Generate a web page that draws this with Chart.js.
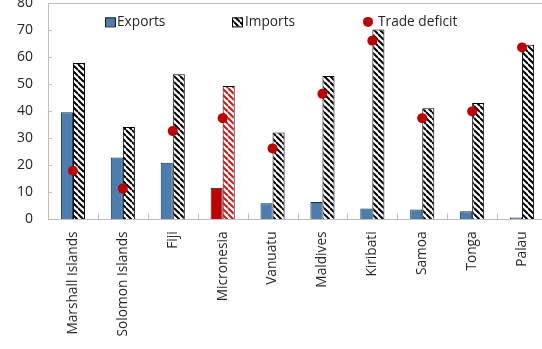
<!DOCTYPE html>
<html><head><meta charset="utf-8">
<script src="https://cdn.jsdelivr.net/npm/chart.js@4/dist/chart.umd.min.js"></script>
<style>
html,body{margin:0;padding:0;background:#fff;overflow:hidden;width:542px;height:349px;position:relative;}
#wrap{position:absolute;left:0;top:0;width:547px;height:400px;}
</style></head><body>
<div id="wrap"><canvas id="c"></canvas></div>
<script>
// ---- data ----
const categories = ['Marshall Islands','Solomon Islands','Fiji','Micronesia','Vanuatu','Maldives','Kiribati','Samoa','Tonga','Palau'];
const exportsVals = [39.7, 22.9, 21.0, 11.7, 6.0, 6.4, 4.0, 3.7, 3.0, 0.7];
const importsVals = [57.9, 34.2, 53.8, 49.4, 32.2, 53.1, 70.3, 41.2, 43.1, 64.7];
const deficitVals = [18.0, 11.4, 32.7, 37.5, 26.3, 46.5, 66.2, 37.5, 40.0, 63.7];
const seriesNames = ['Exports','Imports','Trade deficit'];
const yTicks = [0,10,20,30,40,50,60,70,80];
const highlight = 'Micronesia';

// ---- styles ----
const BLUE = '#4a7db0', RED = '#c00000', AXIS = '#bfbfbf', TXT = '#262626';
const FONT = '"Open Sans", "Noto Sans", sans-serif';
function hatch(color, bg){
  const s = 6, c = document.createElement('canvas'); c.width = c.height = s;
  const g = c.getContext('2d'); g.fillStyle = bg; g.fillRect(0,0,s,s);
  g.strokeStyle = color; g.lineWidth = 2; g.beginPath();
  for (let k=-1;k<=1;k++){ g.moveTo(0,k*s); g.lineTo(s,s+k*s); }
  g.stroke();
  return g.createPattern(c,'repeat');
}
const hatchBlack = hatch('#000','#fff');
const hatchRed = hatch('#d41414','#fff');
const isHi = ctx => categories[ctx.dataIndex] === highlight;

let xAxisHeight = 150;

const decor = {
  id: 'decor',
  beforeDatasetsDraw(chart){
    const {ctx, chartArea:a, scales:{x,y}} = chart;
    ctx.save(); ctx.strokeStyle = AXIS; ctx.lineWidth = 1; ctx.beginPath();
    ctx.moveTo(a.left, Math.round(a.top)+0.5); ctx.lineTo(a.right, Math.round(a.top)+0.5);
    ctx.moveTo(Math.round(a.right)-0.5, a.top); ctx.lineTo(Math.round(a.right)-0.5, a.bottom);
    y.ticks.forEach((t,i)=>{ const py = Math.round(y.getPixelForTick(i))+0.5; ctx.moveTo(a.left,py); ctx.lineTo(a.left+4,py); });
    for (let i=1;i<categories.length;i++){
      const px = Math.round((x.getPixelForTick(i-1)+x.getPixelForTick(i))/2)+0.5;
      ctx.moveTo(px,a.bottom); ctx.lineTo(px,a.bottom-6);
    }
    ctx.stroke(); ctx.restore();
  },
  afterDraw(chart){
    const {ctx, chartArea:a} = chart;
    const cy = a.top + 18.5;
    ctx.save();
    ctx.font = '13.7px ' + FONT; ctx.fillStyle = TXT; ctx.textBaseline = 'middle'; ctx.textAlign = 'left';
    // Exports
    let bx = a.left + 57;
    ctx.fillStyle = BLUE; ctx.fillRect(bx, cy-4.5, 10, 9);
    ctx.strokeStyle = '#1a1a1a'; ctx.lineWidth = 1; ctx.strokeRect(bx+0.5, cy-4.5+0.5, 10, 9);
    ctx.fillStyle = TXT; ctx.fillText(seriesNames[0], bx+12, cy);
    // Imports
    bx = a.left + 184;
    ctx.fillStyle = hatchBlack; ctx.fillRect(bx, cy-4.5, 10, 9);
    ctx.strokeStyle = '#000'; ctx.strokeRect(bx+0.5, cy-4.5+0.5, 10, 9);
    ctx.fillStyle = TXT; ctx.fillText(seriesNames[1], bx+13, cy);
    // Trade deficit
    bx = a.left + 320;
    ctx.fillStyle = RED; ctx.beginPath(); ctx.arc(bx, cy, 5, 0, Math.PI*2); ctx.fill();
    ctx.fillStyle = TXT; ctx.fillText(seriesNames[2], bx+10, cy);
    ctx.restore();
  }
};

const chart = new Chart(document.getElementById('c'), {
  data: {
    labels: categories,
    datasets: [
      { type:'bar', label: seriesNames[0], data: exportsVals, order: 2,
        backgroundColor: c => isHi(c) ? RED : BLUE,
        borderColor: c => isHi(c) ? '#1a1a1a' : '#1c2c3c', borderWidth: 1 },
      { type:'bar', label: seriesNames[1], data: importsVals, order: 2,
        backgroundColor: c => isHi(c) ? hatchRed : hatchBlack,
        borderColor: '#000', borderWidth: 1 },
      { type:'line', label: seriesNames[2], data: deficitVals, order: 0, showLine: false,
        pointRadius: 5, pointHoverRadius: 5, pointBackgroundColor: RED, pointBorderColor: RED, pointBorderWidth: 0 }
    ]
  },
  options: {
    responsive: true, maintainAspectRatio: false, animation: false, devicePixelRatio: 1,
    layout: { padding: 0 },
    datasets: { bar: { categoryPercentage: 0.483, barPercentage: 1 } },
    plugins: { legend: { display: false }, tooltip: { enabled: false } },
    scales: {
      x: {
        offset: true,
        grid: { display: true, drawOnChartArea: false, drawTicks: false },
        border: { display: true, color: AXIS, width: 1 },
        ticks: { minRotation: 90, maxRotation: 90, padding: 12, color: TXT, font: { family: FONT, size: 13.7 } },
        afterFit: s => { s.height = xAxisHeight; }
      },
      y: {
        min: 0, max: 80,
        afterBuildTicks: s => { s.ticks = yTicks.map(v => ({value: v})); },
        grid: { display: true, drawOnChartArea: false, drawTicks: false },
        border: { display: true, color: AXIS, width: 1 },
        ticks: { padding: 15, color: TXT, font: { family: FONT, size: 14 } },
        afterFit: s => { s.width = 48; }
      }
    }
  },
  plugins: [decor]
});

// place the canvas so that the plot area sits where it does in the reference
const wrap = document.getElementById('wrap');
let ca = chart.chartArea;
const newW = Math.round(547 + (546.7 - ca.right));
wrap.style.width = newW + 'px';
chart.resize(newW, 400);
ca = chart.chartArea;
wrap.style.top = (3 - ca.top) + 'px';
xAxisHeight = 400 - (216 + ca.top);
chart.update('none');
</script>
</body></html>
